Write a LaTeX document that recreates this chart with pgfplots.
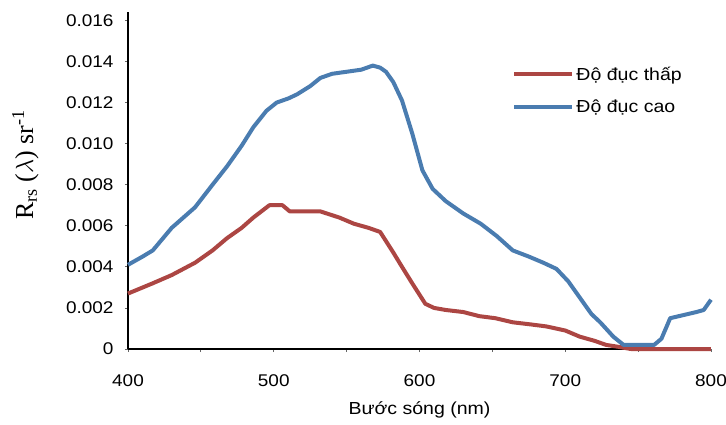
\documentclass[border=0pt]{standalone}
\usepackage{pgfplots}
\pgfplotsset{compat=1.18}
\usepackage{fontspec}
\setmainfont{Liberation Sans}[FakeStretch=1.12]
\newfontfamily\seriffont{Liberation Serif}
\definecolor{lowred}{RGB}{172,70,67}
\definecolor{highblue}{RGB}{74,124,176}
\begin{document}
\begin{tikzpicture}
\begin{axis}[
  scale only axis,
  width=583bp, height=337bp,
  xmin=400, xmax=800, ymin=0, ymax=0.01641,
  scaled y ticks=false, scaled x ticks=false,
  axis x line=bottom, axis y line=left,
  axis line style={line width=1.8bp, -},
  xtick={400,500,600,700,800},
  xticklabels={400,500,600,700,800},
  minor xtick={450,550,650,750},
  ytick={0,0.002,0.004,0.006,0.008,0.010,0.012,0.014,0.016},
  yticklabels={0,0.002,0.004,0.006,0.008,0.010,0.012,0.014,0.016},
  tick style={black!60, line width=0.8bp},
  major tick length=3bp, minor tick length=3bp,
  tick align=outside,
  ticklabel style={font=\fontsize{17}{19}\selectfont},
  xticklabel style={yshift=-19bp},
  yticklabel style={xshift=-8bp},
  xlabel={Bước sóng (nm)},
  xlabel style={font=\fontsize{17.5}{19}\selectfont, yshift=-8bp},
  ylabel={\seriffont R\textsubscript{rs} ($\lambda$) sr\textsuperscript{-1}},
  ylabel style={font=\fontsize{26}{28}\selectfont, at={(axis description cs:-0.176,0.546)}, anchor=center},
  legend style={draw=none, fill=none, at={(rel axis cs:0.659,0.85)}, anchor=north west,
    font=\fontsize{17.5}{19}\selectfont, row sep=14bp, inner xsep=0pt},
  legend cell align=left,
  legend image code/.code={\draw[#1, line width=4.2bp] (0bp,0bp) -- (40bp,0bp); \path (0bp,0bp) -- (58bp,0bp);},
  clip=false,
]
\addplot[lowred, line width=4bp, line join=round] coordinates {
(400,0.0027) (417,0.0032) (430,0.0036) (446,0.0042) (458,0.0048) (468,0.0054)
(478,0.0059) (486,0.0064) (497,0.0070) (506,0.0070) (511,0.0067) (520,0.0067)
(532,0.0067) (545,0.0064) (555,0.0061) (565,0.0059) (573,0.0057) (582,0.0047)
(588,0.0040) (595,0.0032) (604,0.0022) (610,0.0020) (618,0.0019) (630,0.0018)
(641,0.0016) (652,0.0015) (664,0.0013) (676,0.0012) (687,0.0011) (700,0.0009)
(710,0.0006) (720,0.0004) (728,0.0002) (737,0.0001) (745,0.0000) (800,0.0000)
};
\addlegendentry{Độ đục thấp}
\addplot[highblue, line width=4bp, line join=round] coordinates {
(400,0.0041) (410,0.0045) (417,0.0048) (430,0.0059) (446,0.0069) (458,0.0080)
(468,0.0089) (478,0.0099) (486,0.0108) (495,0.0116) (502,0.0120) (510,0.0122)
(516,0.0124) (525,0.0128) (532,0.0132) (540,0.0134) (550,0.0135) (560,0.0136)
(568,0.0138) (573,0.0137) (577,0.0135) (582,0.0130) (588,0.0121) (595,0.0105)
(602,0.0087) (609,0.0078) (618,0.0072) (630,0.0066) (642,0.0061) (653,0.0055)
(664,0.0048) (675,0.0045) (685,0.0042) (694,0.0039) (702,0.0033) (710,0.0025)
(718,0.0017) (724,0.0013) (733,0.0006) (740,0.0002) (750,0.0002) (761,0.0002)
(766,0.0005) (769,0.0010) (772,0.0015) (778,0.0016) (784,0.0017) (790,0.0018)
(795,0.0019) (800,0.0024)
};
\addlegendentry{Độ đục cao}
\end{axis}
\pgfresetboundingbox
\path[use as bounding box] ([shift={(-128bp,-76bp)}]current axis.south west) rectangle ([shift={(-128bp,-76bp)}]current axis.south west) ++(726bp,425bp);
\end{tikzpicture}
\end{document}
